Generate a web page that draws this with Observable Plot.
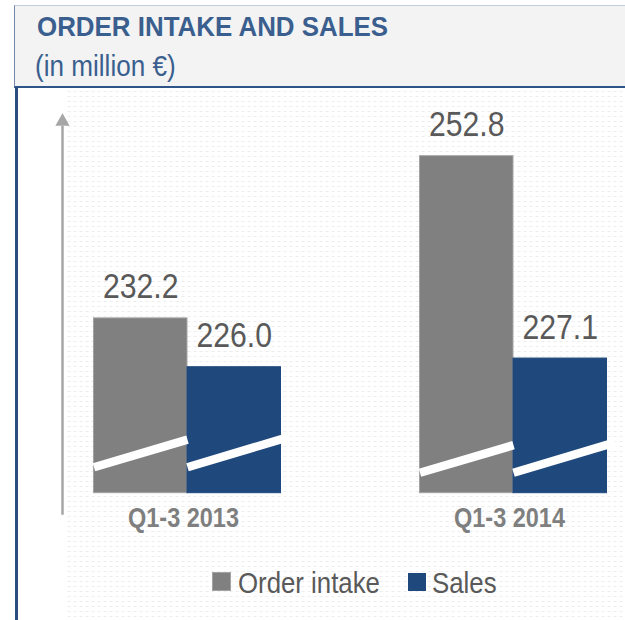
<!DOCTYPE html>
<html>
<head>
<meta charset="utf-8">
<script src="https://cdn.jsdelivr.net/npm/d3@7"></script>
<script src="https://cdn.jsdelivr.net/npm/@observablehq/plot@0.6"></script>
<style>
  html, body { margin: 0; padding: 0; background: #fff; }
  #frame { position: relative; width: 625px; height: 620px; overflow: hidden; background: #fff;
    font-family: "Liberation Sans", Arial, sans-serif; }
  #dots { position: absolute; left: 66px; top: 89px; width: 559px; height: 531px;
    background-image: radial-gradient(ellipse 2px 1px, #ededed 60%, transparent 100%);
    background-size: 6px 5px; }
  #header { position: absolute; left: 14px; top: 5px; width: 611px; height: 80px; box-sizing: content-box;
    background: #f3f3f3; border-top: 1px solid #c3cddb; border-left: 1px solid #7188ab; border-bottom: 2px solid #2f5488; }
  .sq { position: absolute; white-space: nowrap; transform-origin: left top; }
  #title { left: 22px; top: 7px; font-size: 28px; line-height: 28px; font-weight: bold; color: #3a5f8f; transform: scaleX(0.925); }
  #subtitle { left: 20px; top: 45px; font-size: 30px; line-height: 30px; color: #3a5f8f; transform: scaleX(0.87); }
  #leftline { position: absolute; left: 15px; top: 87px; width: 3px; height: 533px; background: #2a4e80; }
  #chart { position: absolute; left: 0; top: 88px; }
  .lg { position: absolute; font-size: 30px; line-height: 30px; color: #595959; white-space: nowrap; transform: scaleX(0.86); transform-origin: left top; top: 568px; }
  .sw { position: absolute; box-sizing: border-box; }
</style>
</head>
<body>
<div id="frame">
  <div id="dots"></div>
  <div id="header">
    <div id="title" class="sq">ORDER INTAKE AND SALES</div>
    <div id="subtitle" class="sq">(in million €)</div>
  </div>
  <div id="leftline"></div>
  <div id="chart"></div>
  <div class="sw" id="sw0" style="left:212px; top:572px; width:19px; height:19px;"></div>
  <div class="lg" id="lg0" style="left:238px;"></div>
  <div class="sw" id="sw1" style="left:408px; top:573px; width:18px; height:18px;"></div>
  <div class="lg" id="lg1" style="left:432px;"></div>
</div>
<script>
// ---- data ----
const periods = ["Q1-3 2013", "Q1-3 2014"];
const seriesNames = ["Order intake", "Sales"];
const orderIntake = [232.2, 252.8];
const sales = [226.0, 227.1];
const axisBase = 210;             // broken value axis starts here
const breakLow = [213.3, 212.6];  // axis-break slash (value at left edge of bar)
const breakHigh = [216.8, 216.1]; // axis-break slash (value at right edge of bar)

const colors = {"Order intake": "#808080", "Sales": "#1f497d"};
const strokes = {"Order intake": "#a3a3a3", "Sales": "#1f497d"};

const seriesValues = [orderIntake, sales];
const rows = [];
periods.forEach((p, i) => {
  seriesNames.forEach((s, j) => {
    rows.push({period: p, series: s, i, j, value: seriesValues[j][i]});
  });
});

const bw = 0.2868; // bar width in group units
const x1 = d => d.i + (d.j - 1) * bw;
const x2 = d => d.i + d.j * bw;
const xc = d => d.i + (d.j - 0.5) * bw;
const xDomain = [-0.3834, 1.3];

const chart = Plot.plot({
  width: 625,
  height: 460,
  marginLeft: 62,
  marginRight: 14.2,
  marginTop: 11,
  marginBottom: 55.3,
  x: {domain: xDomain, axis: null},
  y: {domain: [axisBase, 260], axis: null},
  style: {background: "transparent", overflow: "visible",
    fontFamily: '"Liberation Sans", Arial, sans-serif'},
  marks: [
    Plot.ruleX([xDomain[0]], {y1: 207.2, y2: 256.6, stroke: "#a6a6a6", strokeWidth: 2.5}),
    Plot.dot([xDomain[0]], {x: d => d, y: 257.2, symbol: "triangle", r: 5.3, fill: "#a6a6a6", stroke: "none"}),
    Plot.rect(rows, {x1, x2, y1: () => axisBase, y2: "value",
      fill: d => colors[d.series], stroke: d => strokes[d.series], strokeWidth: 1, inset: 0}),
    Plot.link(rows, {x1, x2: d => x2(d) + (d.j === 1 ? 0.025 : 0),
      y1: d => breakLow[d.i], y2: d => breakHigh[d.i] + (d.j === 1 ? 0.35 : 0),
      stroke: "white", strokeWidth: 8.5, strokeLinecap: "butt"}),
    Plot.text(rows, {x: xc, y: "value", text: d => d.value.toFixed(1), dy: -20,
      lineAnchor: "bottom", textAnchor: "middle", fontSize: 36, fill: "#595959"}),
    Plot.text(periods, {x: (d, i) => i, y: () => axisBase, text: d => d, dy: 15, dx: -4,
      lineAnchor: "top", textAnchor: "middle", fontSize: 27, fontWeight: "bold", fill: "#7f7f7f"})
  ]
});

// narrow the glyphs horizontally (the reference uses a condensed face)
chart.querySelectorAll("text").forEach(t => {
  const s = periods.includes(t.textContent) ? 0.87 : 0.84;
  const x = t.getAttribute("x"), y = t.getAttribute("y");
  const tr = t.getAttribute("transform") || "";
  let tx = 0, ty = 0;
  if (x != null && !/em$/.test(x)) { tx = +x; t.removeAttribute("x"); }
  if (y != null && !/em$/.test(y)) { ty = +y; t.removeAttribute("y"); }
  t.setAttribute("transform", `${tr} translate(${tx},${ty}) scale(${s},1)`);
});
document.getElementById("chart").appendChild(chart);

// legend
seriesNames.forEach((s, k) => {
  const sw = document.getElementById("sw" + k);
  sw.style.background = colors[s];
  sw.style.border = "1.5px solid " + strokes[s];
  document.getElementById("lg" + k).textContent = s;
});
</script>
</body>
</html>
